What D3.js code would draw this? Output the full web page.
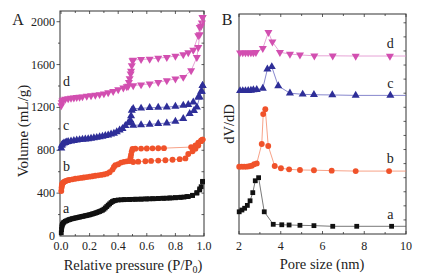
<!DOCTYPE html>
<html>
<head>
<meta charset="utf-8">
<script src="https://cdn.jsdelivr.net/npm/d3@7/dist/d3.min.js"></script>
<style>
  body { margin: 0; background: #fff; }
  svg { display: block; }
</style>
</head>
<body>
<div id="chart"></div>
<script>
// Panel A: N2 isotherms, [P/P0, volume mL/g]
const isoA_ads = [[0.002,30],[0.004,60],[0.006,85],[0.008,100],[0.01,110],[0.015,120],[0.02,128],[0.03,137],[0.04,143],[0.05,149],[0.06,154],[0.07,158],[0.08,162],[0.09,165],[0.10,168],[0.11,171],[0.12,174],[0.13,177],[0.14,180],[0.15,183],[0.16,186],[0.17,189],[0.18,192],[0.19,195],[0.20,198],[0.21,202],[0.22,206],[0.23,210],[0.24,214],[0.25,219],[0.26,224],[0.27,229],[0.28,235],[0.29,241],[0.30,250],[0.31,262],[0.32,275],[0.33,288],[0.34,300],[0.35,312],[0.36,322],[0.37,328],[0.38,332],[0.40,336],[0.42,338],[0.45,340],[0.48,341],[0.50,342],[0.53,343],[0.56,344],[0.59,346],[0.62,347],[0.65,348],[0.68,350],[0.71,352],[0.74,353],[0.77,355],[0.80,357],[0.83,360],[0.86,363],[0.89,368],[0.92,378],[0.95,400],[0.97,430],[0.98,460],[0.99,510]];
const isoA_des = [[0.99,505],[0.97,440],[0.95,405],[0.92,380],[0.88,368],[0.84,362],[0.80,358],[0.76,355],[0.72,352],[0.68,350],[0.64,348],[0.60,346],[0.56,344],[0.52,343],[0.48,341],[0.44,339]];

const isoB_ads = [[0.002,420],[0.004,450],[0.006,470],[0.008,482],[0.01,490],[0.015,498],[0.02,505],[0.03,512],[0.04,517],[0.05,521],[0.06,524],[0.08,529],[0.10,534],[0.12,538],[0.14,542],[0.16,546],[0.18,550],[0.20,554],[0.22,558],[0.24,562],[0.26,566],[0.28,570],[0.30,575],[0.32,582],[0.34,595],[0.36,620],[0.37,645],[0.38,660],[0.40,670],[0.42,685],[0.44,692],[0.46,697],[0.48,700],[0.505,691],[0.54,694],[0.59,698],[0.63,701],[0.68,704],[0.73,707],[0.78,712],[0.83,717],[0.87,724],[0.89,765],[0.92,790],[0.94,815],[0.96,845],[0.98,893],[0.99,900]];
const isoB_des = [[0.99,900],[0.98,885],[0.96,872],[0.94,845],[0.91,830],[0.72,820],[0.68,819],[0.64,818],[0.60,817],[0.56,816],[0.52,815],[0.50,812],[0.495,790],[0.49,760],[0.487,735],[0.484,712]];

const isoC_ads = [[0.002,820],[0.005,845],[0.01,858],[0.02,866],[0.03,872],[0.04,877],[0.05,881],[0.07,886],[0.09,890],[0.11,894],[0.13,898],[0.15,901],[0.17,904],[0.19,907],[0.21,911],[0.23,915],[0.25,919],[0.27,924],[0.29,930],[0.31,936],[0.33,942],[0.35,950],[0.37,958],[0.39,972],[0.41,988],[0.43,1002],[0.45,1030],[0.47,1055],[0.505,1032],[0.56,1037],[0.62,1042],[0.68,1048],[0.74,1054],[0.80,1070],[0.855,1095],[0.90,1141],[0.93,1170],[0.95,1203],[0.97,1296],[0.98,1350],[0.99,1404]];
const isoC_des = [[0.99,1404],[0.985,1350],[0.96,1296],[0.925,1249],[0.89,1225],[0.855,1218],[0.80,1210],[0.74,1203],[0.68,1200],[0.62,1197],[0.56,1192],[0.505,1188],[0.495,1172],[0.49,1120],[0.485,1080],[0.48,1062]];

const isoD_ads = [[0.002,1218],[0.005,1245],[0.01,1262],[0.016,1271],[0.03,1278],[0.05,1283],[0.07,1287],[0.09,1290],[0.11,1294],[0.13,1297],[0.15,1300],[0.18,1305],[0.21,1310],[0.24,1315],[0.27,1321],[0.30,1328],[0.33,1338],[0.365,1351],[0.40,1366],[0.436,1383],[0.46,1395],[0.47,1400],[0.505,1404],[0.56,1412],[0.62,1420],[0.68,1435],[0.74,1451],[0.80,1466],[0.855,1482],[0.91,1544],[0.95,1668],[0.96,1761],[0.97,1880],[0.98,1960],[0.99,2040]];
const isoD_des = [[0.99,2040],[0.985,1990],[0.97,1947],[0.96,1870],[0.925,1736],[0.89,1712],[0.855,1693],[0.80,1680],[0.74,1668],[0.68,1660],[0.62,1652],[0.56,1648],[0.505,1643],[0.50,1637],[0.495,1590],[0.49,1540],[0.487,1513],[0.48,1470],[0.475,1435]];

// Panel B: pore size distribution, [pore size nm, dV/dD (arb.)]
const psdA = [[2.01,10.1],[2.14,10.9],[2.27,11.7],[2.40,13.0],[2.53,15.1],[2.66,18.8],[2.78,24.2],[2.94,25.6],[3.21,10.1],[3.64,4.4],[4.05,4.2],[4.40,4.1],[4.92,3.95],[5.59,3.8],[6.49,3.5],[7.64,3.5],[9.31,3.5]];
const psdB = [[2.01,30.6],[2.13,30.6],[2.25,30.6],[2.37,30.6],[2.49,30.8],[2.61,31.0],[2.73,31.7],[2.85,32.1],[3.09,40.9],[3.16,54.5],[3.26,56.7],[3.40,40.0],[3.71,30.9],[4.01,29.9],[4.40,29.4],[4.92,29.1],[5.59,29.0],[6.44,28.8],[7.59,28.6],[9.19,28.6]];
const psdC = [[2.05,65.1],[2.18,65.1],[2.31,65.1],[2.44,65.2],[2.57,65.3],[2.69,65.5],[2.85,65.6],[3.14,66.2],[3.36,74.9],[3.57,76.0],[3.88,67.3],[4.44,64.0],[5.05,63.5],[5.59,63.3],[6.47,63.2],[7.59,63.0],[9.25,63.0]];
const psdD = [[2.05,82.4],[2.18,82.4],[2.31,82.4],[2.44,82.4],[2.57,82.4],[2.69,82.4],[2.81,82.6],[3.14,84.4],[3.41,91.7],[3.60,87.3],[3.96,82.6],[4.44,81.8],[4.92,81.4],[5.61,81.0],[6.49,81.0],[7.59,80.9],[9.23,80.9]];

const seriesLabels = ["a", "b", "c", "d"];
const colors = ["#111111", "#f0522a", "#2e2e98", "#d24fb0"];
const lineColors = ["#555555", "#f58a6a", "#6868c0", "#e08ccc"];
const shapes = ["square", "circle", "triangle", "down"];

const tickA_x = [0, 0.2, 0.4, 0.6, 0.8, 1.0];
const tickA_y = [0, 400, 800, 1200, 1600, 2000];
const tickB_x = [2, 4, 6, 8, 10];

const W = 421, H = 278;
const FONT = "'Liberation Serif', 'Times New Roman', Times, 'DejaVu Serif', serif";
const svg = d3.select("#chart").append("svg")
  .attr("width", W).attr("height", H)
  .attr("font-family", FONT)
  .style("font-family", FONT);

// scales
const xA = d3.scaleLinear().domain([-0.007, 1.0]).range([60, 204]);
const yA = d3.scaleLinear().domain([0, 2100]).range([236, 11]);
const xB = d3.scaleLinear().domain([2, 10]).range([239, 406]);
const yB = d3.scaleLinear().domain([0, 100]).range([234, 14]);

function symbolPath(shape) {
  if (shape === "square") return d3.symbol(d3.symbolSquare, 23)();
  if (shape === "circle") return d3.symbol(d3.symbolCircle, 27)();
  return d3.symbol(d3.symbolTriangle, 28)();
}

function addText(parent, s) {
  return parent.append("text").attr("fill", "#222").attr("font-family", FONT).style("font-size", s);
}

function drawSeries(g, data, x, y, i, extendTo) {
  const pts = extendTo != null ? data.concat([[extendTo, data[data.length - 1][1]]]) : data;
  g.append("path")
    .datum(pts)
    .attr("fill", "none")
    .attr("stroke", lineColors[i])
    .attr("stroke-width", 0.8)
    .attr("d", d3.line().x(d => x(d[0])).y(d => y(d[1])));
  g.selectAll(null)
    .data(data)
    .enter()
    .append("path")
    .attr("d", symbolPath(shapes[i]))
    .attr("fill", colors[i])
    .attr("transform", d => `translate(${x(d[0])},${y(d[1])})` + (shapes[i] === "down" ? " rotate(180)" : ""));
}

function frame(x, y, opts) {
  const [x0, x1] = x.range();
  const [y0, y1] = y.range();
  const g = svg.append("g");
  const tick = (xa, ya, xb, yb) => g.append("line")
    .attr("x1", xa).attr("y1", ya).attr("x2", xb).attr("y2", yb)
    .attr("stroke", "#333").attr("stroke-width", 0.8);
  opts.xTicks.forEach(t => {
    const len = opts.xMajor(t) ? 3 : 2;
    tick(x(t), y0, x(t), y0 - len);
    tick(x(t), y1, x(t), y1 + len);
  });
  opts.yTicksRight.forEach(t => tick(x1, y(t), x1 - 2.5, y(t)));
  if (opts.yTicksLeft) {
    opts.yTicksLeft.forEach(t => {
      const len = opts.yMajor(t) ? 3.5 : 2;
      tick(x0, y(t), x0 - len, y(t));
    });
  }
  g.append("rect")
    .attr("x", x0).attr("y", y1)
    .attr("width", x1 - x0).attr("height", y0 - y1)
    .attr("fill", "none").attr("stroke", "#333").attr("stroke-width", 1);
  return g;
}

// ---- Panel A ----
frame(xA, yA, {
  xTicks: d3.range(0, 1.001, 0.1),
  xMajor: t => Math.abs(Math.round(t * 10) % 2) === 0,
  yTicksRight: d3.range(200, 2100, 200),
  yTicksLeft: d3.range(200, 2100, 200),
  yMajor: t => t % 400 === 0
});

tickA_y.forEach(d => addText(svg, "12px")
  .attr("x", 55).attr("y", yA(d) + 4)
  .attr("text-anchor", "end").text(d));
tickA_x.forEach(d => addText(svg, "12px")
  .attr("x", xA(d)).attr("y", 249.5)
  .attr("text-anchor", "middle").text(d.toFixed(1)));

const gA = svg.append("g");
[[isoA_ads, isoA_des], [isoB_ads, isoB_des], [isoC_ads, isoC_des], [isoD_ads, isoD_des]].forEach((pair, i) => {
  drawSeries(gA, pair[1], xA, yA, i, null);
  drawSeries(gA, pair[0], xA, yA, i, null);
});

// curve labels A
const labelA_y = [250, 640, 1030, 1440];
seriesLabels.forEach((d, i) => addText(gA, "14px")
  .attr("x", 63).attr("y", yA(labelA_y[i]) + 4).text(d));

addText(svg, "16px").attr("x", 18).attr("y", 25).attr("text-anchor", "middle").text("A");
addText(svg, "15px")
  .attr("transform", `translate(28,131) rotate(-90)`)
  .attr("text-anchor", "middle").text("Volume (mL/g)");
const xtA = addText(svg, "14.5px").attr("x", 133).attr("y", 270).attr("text-anchor", "middle");
xtA.append("tspan").text("Relative pressure (P/P");
xtA.append("tspan").attr("dy", 3).style("font-size", "10px").text("0");
xtA.append("tspan").attr("dy", -3).text(")");

// ---- Panel B ----
frame(xB, yB, {
  xTicks: d3.range(2, 10.01, 1),
  xMajor: t => t % 2 === 0,
  yTicksRight: d3.range(0, 100, 6.4).slice(1),
  yTicksLeft: null
});

tickB_x.forEach(d => addText(svg, "12px")
  .attr("x", xB(d)).attr("y", 249.5)
  .attr("text-anchor", "middle").text(d));

const gB = svg.append("g");
[psdA, psdB, psdC, psdD].forEach((data, i) => drawSeries(gB, data, xB, yB, i, 10));

const labelB_y = [8.5, 34, 68, 86.5];
seriesLabels.forEach((d, i) => addText(gB, "14px")
  .attr("x", xB(9.25)).attr("y", yB(labelB_y[i]) + 4)
  .attr("text-anchor", "middle").text(d));

addText(svg, "16px").attr("x", 227).attr("y", 25).attr("text-anchor", "middle").text("B");
addText(svg, "14.5px")
  .attr("transform", `translate(234,124) rotate(-90)`)
  .attr("text-anchor", "middle").text("dV/dD");
addText(svg, "14.5px").attr("x", 322).attr("y", 269).attr("text-anchor", "middle").text("Pore size (nm)");
</script>
</body>
</html>
